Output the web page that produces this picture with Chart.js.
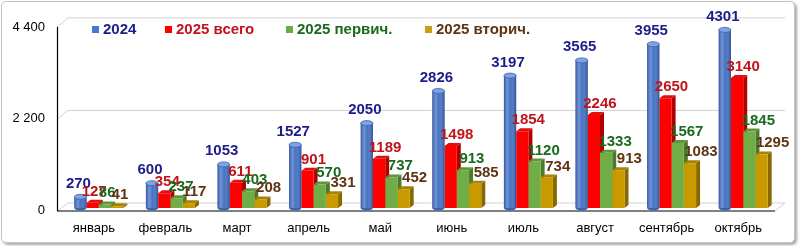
<!DOCTYPE html>
<html>
<head>
<meta charset="utf-8">
<script src="https://cdn.jsdelivr.net/npm/chart.js@4.4.1/dist/chart.umd.min.js"></script>
<style>
html,body{margin:0;padding:0;background:#fff;}
#wrap{position:relative;width:800px;height:246px;overflow:hidden;background:#fff;}
#frame{position:absolute;left:1px;top:1px;width:792px;height:240px;border:1px solid #c4c4c4;border-radius:5px;box-shadow:2px 2px 3px rgba(0,0,0,0.35);background:#fff;}
canvas{position:absolute;left:0;top:0;}
</style>
</head>
<body>
<div id="wrap"><div id="frame"></div><canvas id="c" width="800" height="246"></canvas></div>
<script>
// ---- data ----
const categories = ['январь','февраль','март','апрель','май','июнь','июль','август','сентябрь','октябрь'];
const seriesNames = ['2024','2025 всего','2025 первич.','2025 вторич.'];
const values2024 = [270, 600, 1053, 1527, 2050, 2826, 3197, 3565, 3955, 4301];
const values2025Total = [127, 354, 611, 901, 1189, 1498, 1854, 2246, 2650, 3140];
const values2025Primary = [86, 237, 403, 570, 737, 913, 1120, 1333, 1567, 1845];
const values2025Secondary = [41, 117, 208, 331, 452, 585, 734, 913, 1083, 1295];
const yTickValues = [0, 2200, 4400];

// ---- styles ----
const FONT = '"Liberation Sans", Arial, sans-serif';
const LABEL_FONT = 'bold 15px "Liberation Sans Narrow", "Liberation Sans", Arial, sans-serif';
const frontColors = ['#4472c4', '#ff0000', '#70ad47', '#c89a00'];
const sideColors  = ['#2f5597', '#b00000', '#4a7a2c', '#886800'];
const topColors   = ['#7fa4e4', '#e01010', '#5f963a', '#a88300'];
const legendMarkerColors = ['#4a78c8', '#ff0000', '#6aad46', '#c8a010'];
const labelColors = ['#1c1c8a', '#c0141c', '#1a6a1c', '#5e3412'];
const seriesValues = [values2024, values2025Total, values2025Primary, values2025Secondary];

function fmt(v){ return String(v).replace(/\B(?=(\d{3})+(?!\d))/g, ' '); }

const DX = 4, DY = 3; // 3D depth

const threeD = {
  id: 'threeD',
  beforeDatasetsDraw(chart) {
    const ctx = chart.ctx, ca = chart.chartArea, ys = chart.scales.y;
    const frontY = v => ca.bottom + 3 + (ys.getPixelForValue(v) - ca.bottom) * (189/187);
    const backY  = v => ca.bottom - 5 + (ys.getPixelForValue(v) - ca.bottom) * (190/187);
    const fL = ca.left - 5.5, bL = ca.left + 5, bR = ca.right + 6, fR = ca.right - 4;
    ctx.save();
    ctx.strokeStyle = '#d2d2d2'; ctx.lineWidth = 1;
    yTickValues.forEach(v => {
      ctx.beginPath();
      ctx.moveTo(fL, frontY(v)); ctx.lineTo(bL, backY(v)); ctx.lineTo(bR, backY(v));
      ctx.stroke();
    });
    ctx.beginPath(); ctx.moveTo(fR, frontY(0)); ctx.lineTo(bR, backY(0)); ctx.stroke();
    ctx.strokeStyle = '#000'; ctx.lineWidth = 1.2;
    ctx.beginPath();
    ctx.moveTo(fL, frontY(yTickValues[yTickValues.length-1]));
    ctx.lineTo(fL, frontY(0));
    ctx.lineTo(fR, frontY(0));
    ctx.stroke();
    for (let d = 1; d < chart.data.datasets.length; d++) {
      chart.getDatasetMeta(d).data.forEach(el => {
        const {x, y, base, width} = el.getProps(['x','y','base','width'], true);
        const l = x - width/2, r = x + width/2;
        ctx.fillStyle = sideColors[d];
        ctx.beginPath();
        ctx.moveTo(r, y); ctx.lineTo(r + DX, y - DY); ctx.lineTo(r + DX, base - DY); ctx.lineTo(r, base);
        ctx.closePath(); ctx.fill();
        ctx.fillStyle = topColors[d];
        ctx.beginPath();
        ctx.moveTo(l, y); ctx.lineTo(l + DX, y - DY); ctx.lineTo(r + DX, y - DY); ctx.lineTo(r, y);
        ctx.closePath(); ctx.fill();
      });
    }
    ctx.restore();
  },
  afterDatasetsDraw(chart) {
    const ctx = chart.ctx;
    ctx.save();
    chart.getDatasetMeta(0).data.forEach(el => {
      const {x, y, base, width} = el.getProps(['x','y','base','width'], true);
      const l = x - width/2, r = x + width/2;
      const g = ctx.createLinearGradient(l, 0, r, 0);
      g.addColorStop(0, 'rgba(20,40,110,0.45)');
      g.addColorStop(0.3, 'rgba(255,255,255,0.22)');
      g.addColorStop(0.55, 'rgba(255,255,255,0.0)');
      g.addColorStop(1, 'rgba(10,25,80,0.45)');
      ctx.fillStyle = g;
      ctx.fillRect(l, y, width, base - y);
      ctx.fillStyle = '#3a62ad';
      ctx.beginPath(); ctx.ellipse(x, base, width/2, 2.5, 0, 0, Math.PI); ctx.fill();
      ctx.fillStyle = topColors[0];
      ctx.strokeStyle = '#3a62ad'; ctx.lineWidth = 0.8;
      ctx.beginPath(); ctx.ellipse(x, y, width/2, 2.5, 0, 0, Math.PI*2); ctx.fill(); ctx.stroke();
    });
    ctx.font = LABEL_FONT;
    ctx.textAlign = 'center'; ctx.textBaseline = 'alphabetic';
    const baseDx = [-2, 6, 9, 11];
    chart.data.datasets.forEach((ds, d) => {
      ctx.fillStyle = labelColors[d];
      chart.getDatasetMeta(d).data.forEach((el, i) => {
        const f = d === 0 ? 1 : Math.min(1, 0.25 + 0.25*i);
        const dx = baseDx[d] * f;
        const lift = d === 0 ? 9 : 7;
        ctx.fillText(String(ds.data[i]), el.x + dx, el.y - lift);
      });
    });
    const lx = [92, 165, 286, 425];
    ctx.font = 'bold 15px ' + FONT;
    ctx.textAlign = 'left'; ctx.textBaseline = 'middle';
    seriesNames.forEach((n, d) => {
      ctx.fillStyle = legendMarkerColors[d];
      ctx.fillRect(lx[d], 26, 7, 7);
      ctx.fillStyle = labelColors[d];
      ctx.fillText(n, lx[d] + 11, 30);
    });
    ctx.restore();
  }
};

new Chart(document.getElementById('c'), {
  type: 'bar',
  data: {
    labels: categories,
    datasets: seriesNames.map((n, d) => ({
      label: n,
      data: seriesValues[d],
      backgroundColor: frontColors[d],
      borderWidth: 0,
      categoryPercentage: 0.684,
      barPercentage: 1.0
    }))
  },
  options: {
    responsive: false,
    animation: false,
    events: [],
    devicePixelRatio: 1,
    layout: { padding: { top: 21, right: 21, left: 0, bottom: 0 } },
    plugins: { legend: { display: false }, tooltip: { enabled: false } },
    scales: {
      x: {
        grid: { display: false, drawTicks: false },
        border: { display: false },
        ticks: { color: '#000', font: { family: FONT, size: 13 }, labelOffset: -5, padding: 13, maxRotation: 0, autoSkip: false },
        afterFit: s => { s.height = 38; }
      },
      y: {
        min: 0, max: 4400,
        afterBuildTicks: s => { s.ticks = yTickValues.map(v => ({ value: v })); },
        grid: { display: false, drawTicks: false },
        border: { display: false },
        ticks: { color: '#000', font: { family: FONT, size: 13 }, padding: 18, labelOffset: 2, callback: v => fmt(v) },
        afterFit: s => { s.width = 63; }
      }
    }
  },
  plugins: [threeD]
});
</script>
</body>
</html>
